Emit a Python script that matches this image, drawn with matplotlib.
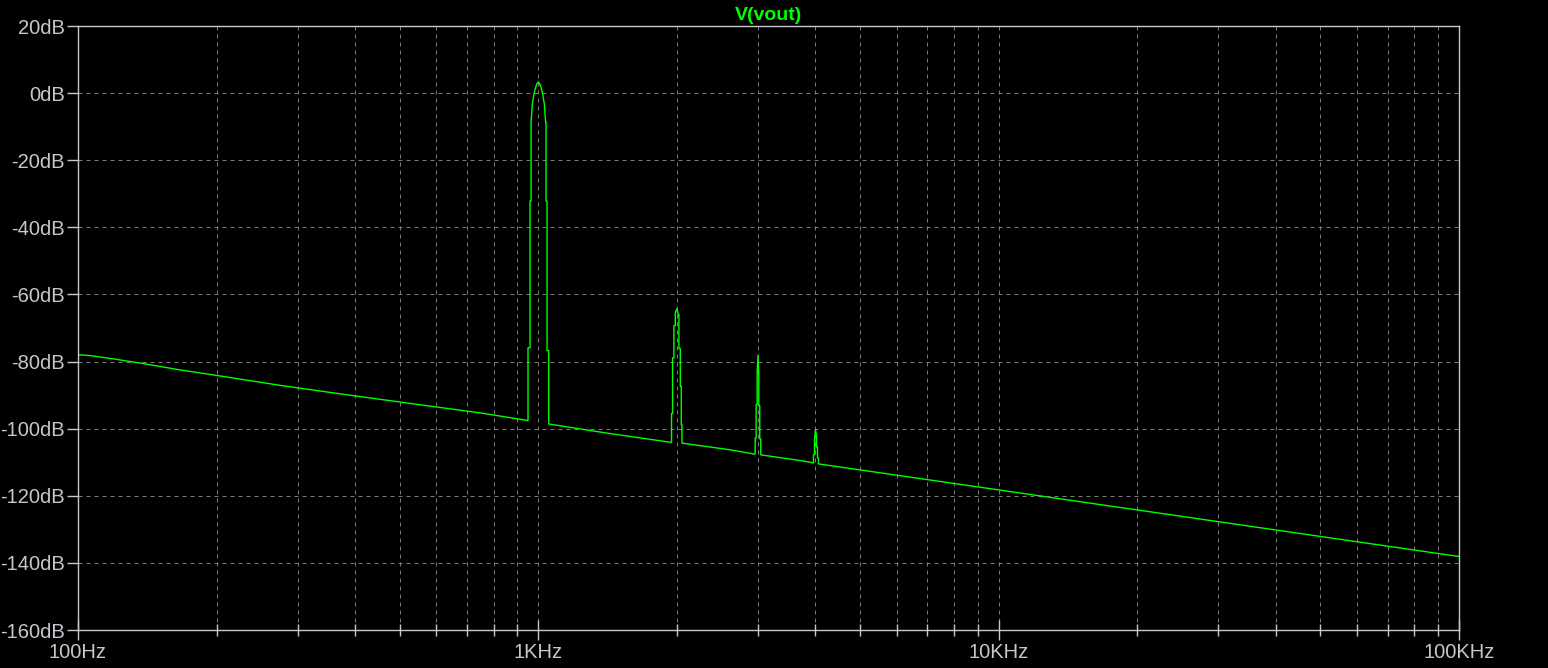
import matplotlib.pyplot as plt
from matplotlib.ticker import FixedLocator, NullFormatter

plt.rcParams["font.family"] = ["Liberation Sans", "DejaVu Sans"]

# noise floor below the fundamental
floor1_hz = [100, 106, 118, 140, 165, 195, 275, 384, 535, 747, 943]
floor1_db = [-78.0, -78.2, -79.1, -80.7, -82.4, -83.9, -87.1, -89.9, -92.6, -95.3, -97.5]

# fundamental at 1 kHz
h1_hz = [949.7, 949.7, 959.4, 959.4, 964.2, 964.2, 970.5, 980.2, 992.0, 1000,
         1008.0, 1020.2, 1030.5, 1037.3, 1039.3, 1039.3, 1044.5, 1044.5, 1053.4, 1053.4]
h1_db = [-97.6, -75.9, -75.9, -32.1, -32.1, -8.7, -3.3, 0.3, 2.7, 3.3,
         2.7, 0.3, -3.3, -8.7, -8.7, -32.2, -32.2, -76.7, -76.7, -98.6]

floor2_hz = [1406, 1837]
floor2_db = [-101.3, -103.6]

# 2nd harmonic
h2_hz = [1947, 1947, 1957, 1957, 1970, 1970, 1984, 1984, 2000, 2014,
         2020, 2020, 2034, 2034, 2044, 2044, 2051, 2051]
h2_db = [-104.1, -95.5, -95.5, -78.9, -78.9, -69.3, -69.3, -65.5, -64.2, -66.0,
         -66.0, -76.1, -76.1, -87.3, -87.3, -98.8, -98.8, -104.3]

floor3_hz = [2610]
floor3_db = [-106.3]

# 3rd harmonic
h3_hz = [2958, 2958, 2973, 2973, 2988, 2988, 3000, 3012, 3012, 3027, 3027, 3042, 3042]
h3_db = [-107.6, -102.8, -102.8, -92.8, -92.8, -83.4, -78.2, -83.4, -93.1, -93.1,
         -103.1, -103.1, -107.8]

floor4_hz = [3710]
floor4_db = [-109.5]

# 4th harmonic
h4_hz = [3960, 3960, 3980, 3980, 4000, 4020, 4020, 4040, 4040, 4060, 4060]
h4_db = [-110.2, -107.8, -107.8, -103.1, -100.3, -102.1, -105.5, -105.5, -108.7, -108.7, -110.5]

floor5_hz = [10060, 14070, 19500, 27300, 100000]
floor5_db = [-118.3, -121.2, -124.0, -126.9, -138.1]

freq = floor1_hz + h1_hz + floor2_hz + h2_hz + floor3_hz + h3_hz + floor4_hz + h4_hz + floor5_hz
vout = floor1_db + h1_db + floor2_db + h2_db + floor3_db + h3_db + floor4_db + h4_db + floor5_db

y_ticks = [-160, -140, -120, -100, -80, -60, -40, -20, 0, 20]
y_labels = [f"{v}dB" for v in y_ticks]
x_ticks = [100, 1000, 10000, 100000]
x_labels = ["100Hz", "1KHz", "10KHz", "100KHz"]
x_minor = [200, 300, 400, 500, 600, 700, 800, 900,
           2000, 3000, 4000, 5000, 6000, 7000, 8000, 9000,
           20000, 30000, 40000, 50000, 60000, 70000, 80000, 90000]

fg = "#c8c8c8"
txt = "#c4c8cc"
grid_c = "#7a7a7a"

fig = plt.figure(figsize=(15.48, 6.68), dpi=100, facecolor="black")
ax = fig.add_axes([78 / 1548, 1 - 630 / 668, (1459 - 78) / 1548, (630 - 26) / 668])
ax.set_facecolor("black")

ax.plot(freq, vout, color="#00ff00", lw=1.0)

ax.set_xscale("log")
ax.set_xlim(100, 100000)
ax.set_ylim(-160, 20)

ax.xaxis.set_major_locator(FixedLocator(x_ticks))
ax.set_xticklabels(x_labels)
ax.xaxis.set_minor_locator(FixedLocator(x_minor))
ax.xaxis.set_minor_formatter(NullFormatter())
ax.set_yticks(y_ticks)
ax.set_yticklabels(y_labels)

ax.grid(True, which="both", axis="x", color=grid_c, lw=0.72, linestyle=(0, (4, 4)))
ax.grid(True, which="major", axis="y", color=grid_c, lw=0.72, linestyle=(0, (4, 4)))

for s in ax.spines.values():
    s.set_color(fg)
    s.set_linewidth(1.0)

ax.tick_params(axis="x", which="major", direction="inout", length=14, width=1.0,
               color=fg, labelcolor=txt, labelsize=14.5, pad=2)
ax.tick_params(axis="x", which="minor", direction="inout", length=9, width=1.0, color=fg)
ax.tick_params(axis="y", which="major", direction="out", length=8, width=1.0,
               color=fg, labelcolor=txt, labelsize=14.5, pad=1.5)

ax.set_title("V(vout)", color="#00ff00", fontsize=14, fontweight="bold", pad=4)

fig.savefig("out.png", dpi=100, facecolor="black")
plt.close(fig)
